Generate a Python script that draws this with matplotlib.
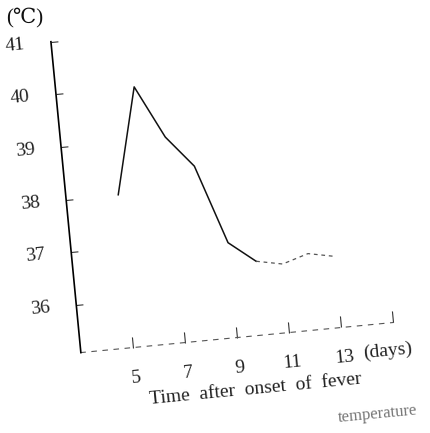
import matplotlib
matplotlib.use("Agg")
import matplotlib.pyplot as plt
from matplotlib.transforms import Affine2D
from mpl_toolkits.axisartist import floating_axes
from mpl_toolkits.axisartist.grid_finder import DictFormatter, FixedLocator

# data
days = [5, 6, 7, 8, 9, 10, 11, 12, 13]
temps = [38.0, 40.0, 39.0, 38.4, 36.9, 36.5, 36.4, 36.55, 36.45]
x_ticks = [5, 7, 9, 11, 13, 15]
x_labels = ['5', '7', '9', '11', '13', '']
y_ticks = [36, 37, 38, 39, 40, 41]

W, H = 431, 433
plt.rcParams['font.family'] = ['Liberation Serif', 'DejaVu Serif']

fig = plt.figure(figsize=(W / 100, H / 100), dpi=100)

# scanned page is tilted a bit, keep it
ang = 5.5
tr = Affine2D().translate(-3, -35.1).scale(26.7, 54).rotate_deg(ang)

gh = floating_axes.GridHelperCurveLinear(
    tr, extremes=(3, 15, 35.1, 41.0),
    grid_locator1=FixedLocator(x_ticks),
    grid_locator2=FixedLocator(y_ticks),
    tick_formatter1=DictFormatter(dict(zip(x_ticks, x_labels))),
    tick_formatter2=DictFormatter({t: str(t) for t in y_ticks}))

rect = [47.5 / W, 77 / H, 349.4 / W, 347.8 / H]
ax = fig.add_axes(rect, axes_class=floating_axes.FloatingAxes, grid_helper=gh)
ax.patch.set_visible(False)
ax.axis["top"].set_visible(False)
ax.axis["right"].set_visible(False)

for k in ["left", "bottom"]:
    a = ax.axis[k]
    a.major_ticklabels.set_fontsize(14)
    a.major_ticklabels.set_color('#222222')
    a.major_ticks.set_color('#333333')
ax.axis["left"].major_ticks.set_ticksize(5)
ax.axis["bottom"].major_ticks.set_ticksize(8)
ax.axis["left"].line.set_linewidth(1.2)
ax.axis["left"].major_ticklabels.set_pad(19)
ax.axis["bottom"].major_ticklabels.set_pad(16)
ax.axis["bottom"].line.set_linestyle((0, (4, 6)))
ax.axis["bottom"].line.set_linewidth(0.8)
ax.axis["bottom"].line.set_edgecolor('#555555')

aux = ax.get_aux_axes(tr)
aux.plot(days[:6], temps[:6], color='#111111', lw=1.1)
aux.plot(days[5:], temps[5:], color='#555555', lw=0.9, ls=(0, (3, 3)))

def ftext(x, y, s, **kw):
    fig.text(x / W, 1 - y / H, s, ha='center', va='center', **kw)

ftext(25, 18, '(℃)', fontsize=15, color='#111111')
ftext(388, 351, '(days)', fontsize=14, rotation=ang, color='#222222')
ftext(256, 389, 'Time  after  onset  of  fever', fontsize=14,
      rotation=ang, color='#222222')
ftext(378, 414, 'temperature', fontsize=12, rotation=ang, color='#777777')

fig.savefig('out.png', dpi=100)
